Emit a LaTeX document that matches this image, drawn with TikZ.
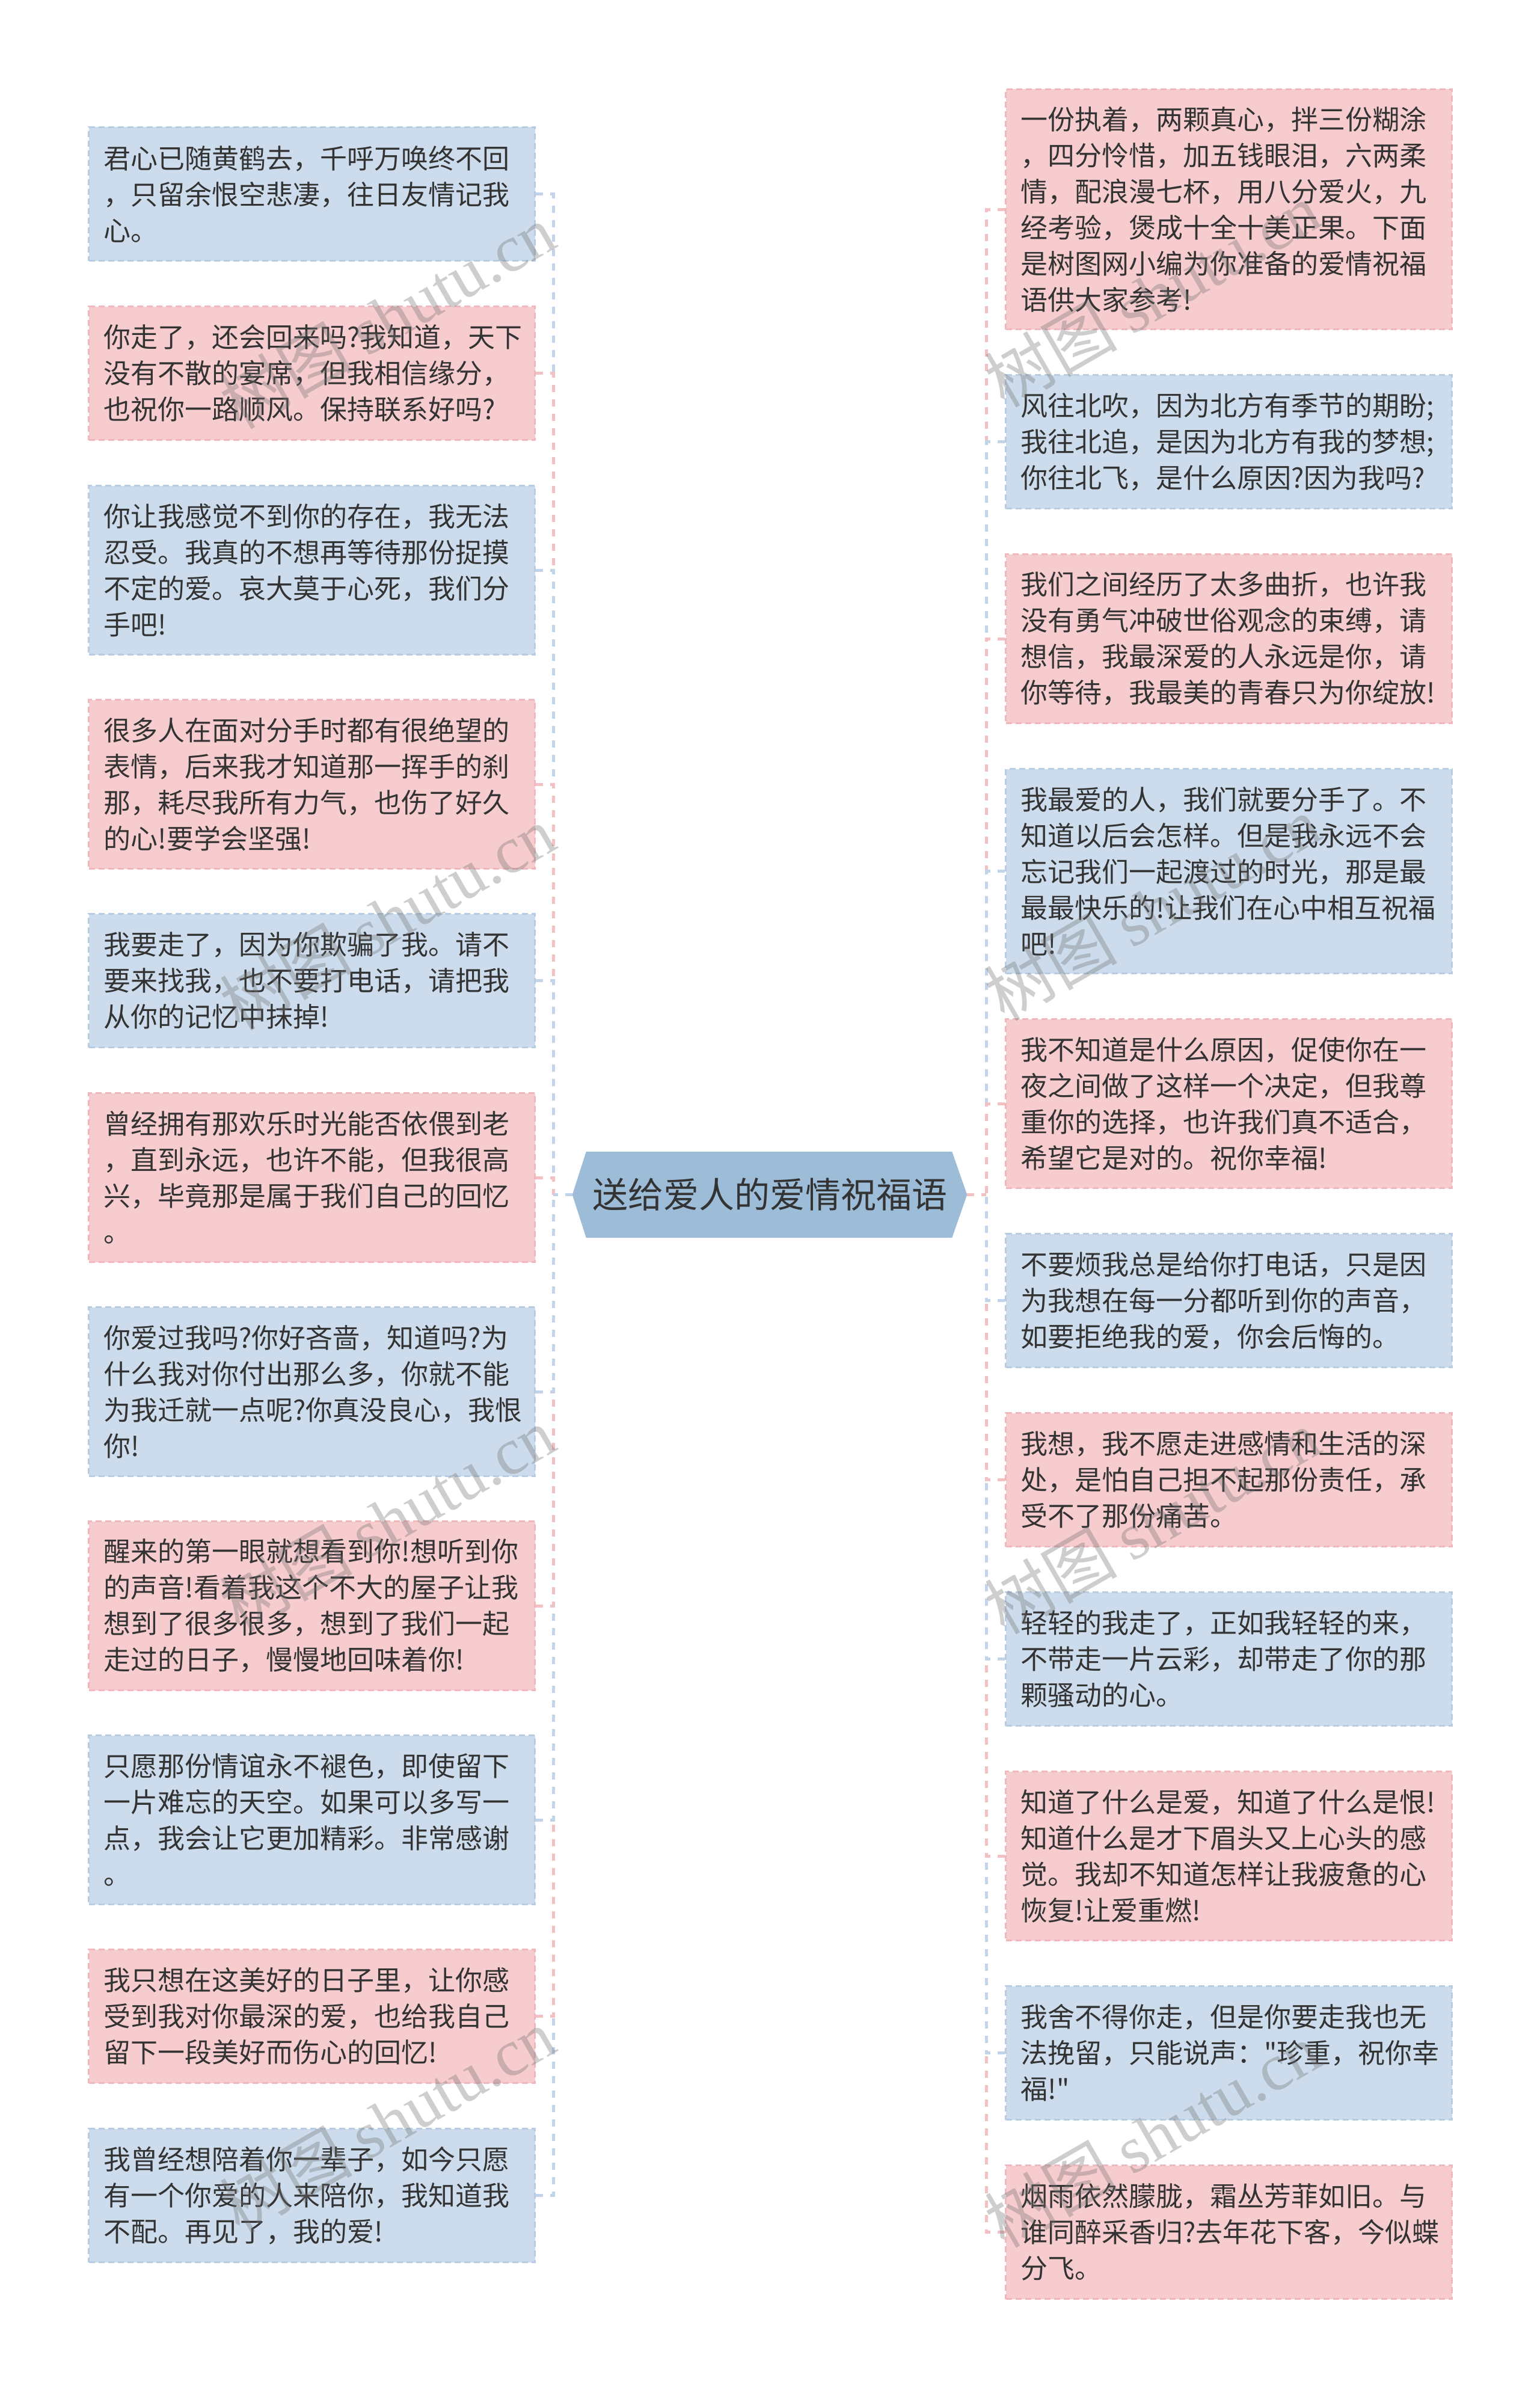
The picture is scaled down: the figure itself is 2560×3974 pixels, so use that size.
\documentclass[tikz,border=0pt]{standalone}
\usepackage{fontspec}
\setmainfont{Noto Sans CJK SC}
\newfontfamily\cjkfont{Noto Sans CJK SC}
\newfontfamily\wmlatin{Liberation Serif}
\usetikzlibrary{backgrounds}
\definecolor{bfill}{HTML}{CCDCEC}
\definecolor{bline}{HTML}{B8CDE3}
\definecolor{pfill}{HTML}{F6CCCF}
\definecolor{pline}{HTML}{F0B8BD}
\definecolor{cblue}{HTML}{C2D4E9}
\definecolor{cpink}{HTML}{F3C0C4}
\definecolor{rootfill}{HTML}{9DBCD8}
\definecolor{txt}{HTML}{333333}
\begin{document}
\begin{tikzpicture}[x=1pt,y=-1pt,
  leaf/.style={anchor=north west, minimum width=742pt, text width=692pt, inner xsep=25pt, inner ysep=0pt, align=left, text=txt, font=\cjkfont\fontsize{45pt}{60pt}\selectfont, line width=3pt, dash pattern=on 10pt off 6pt},
  bleaf/.style={leaf, fill=bfill, draw=bline},
  pleaf/.style={leaf, fill=pfill, draw=pline},
  hthree/.style={minimum height=222pt},
  hfour/.style={minimum height=281pt},
  hfive/.style={minimum height=340pt},
  hsix/.style={minimum height=399pt},
  conn/.style={line width=5pt, dash pattern=on 12pt off 12pt},
  bconn/.style={conn, draw=cblue},
  pconn/.style={conn, draw=cpink},
  wm/.style={rotate=30, text=black!55, opacity=0.35, font=\cjkfont\fontsize{110pt}{110pt}\selectfont, inner sep=0pt}
]
\useasboundingbox (0,0) rectangle (2560,3974);

% central topic
\node[minimum width=656pt, minimum height=143pt, inner sep=0pt, font=\cjkfont\fontsize{59pt}{59pt}\selectfont, text=txt] (root) at (1280,1986.5) {送给爱人的爱情祝福语};

% left column
\node[bleaf,hthree] (L1) at (146,210) {君心已随黄鹤去，千呼万唤终不回\\，只留余恨空悲凄，往日友情记我\\心。};
\node[pleaf,hthree] (L2) at (146,508) {你走了，还会回来吗?我知道，天下\\没有不散的宴席，但我相信缘分，\\也祝你一路顺风。保持联系好吗?};
\node[bleaf,hfour] (L3) at (146,806) {你让我感觉不到你的存在，我无法\\忍受。我真的不想再等待那份捉摸\\不定的爱。哀大莫于心死，我们分\\手吧!};
\node[pleaf,hfour] (L4) at (146,1162) {很多人在面对分手时都有很绝望的\\表情，后来我才知道那一挥手的刹\\那，耗尽我所有力气，也伤了好久\\的心!要学会坚强!};
\node[bleaf,hthree] (L5) at (146,1518) {我要走了，因为你欺骗了我。请不\\要来找我，也不要打电话，请把我\\从你的记忆中抹掉!};
\node[pleaf,hfour] (L6) at (146,1816) {曾经拥有那欢乐时光能否依偎到老\\，直到永远，也许不能，但我很高\\兴，毕竟那是属于我们自己的回忆\\。};
\node[bleaf,hfour] (L7) at (146,2172) {你爱过我吗?你好吝啬，知道吗?为\\什么我对你付出那么多，你就不能\\为我迁就一点呢?你真没良心，我恨\\你!};
\node[pleaf,hfour] (L8) at (146,2528) {醒来的第一眼就想看到你!想听到你\\的声音!看着我这个不大的屋子让我\\想到了很多很多，想到了我们一起\\走过的日子，慢慢地回味着你!};
\node[bleaf,hfour] (L9) at (146,2884) {只愿那份情谊永不褪色，即使留下\\一片难忘的天空。如果可以多写一\\点，我会让它更加精彩。非常感谢\\。};
\node[pleaf,hthree] (L10) at (146,3240) {我只想在这美好的日子里，让你感\\受到我对你最深的爱，也给我自己\\留下一段美好而伤心的回忆!};
\node[bleaf,hthree] (L11) at (146,3538) {我曾经想陪着你一辈子，如今只愿\\有一个你爱的人来陪你，我知道我\\不配。再见了，我的爱!};

% right column
\node[pleaf,hsix] (R1) at (1671,147) {一份执着，两颗真心，拌三份糊涂\\，四分怜惜，加五钱眼泪，六两柔\\情，配浪漫七杯，用八分爱火，九\\经考验，煲成十全十美正果。下面\\是树图网小编为你准备的爱情祝福\\语供大家参考!};
\node[bleaf,hthree] (R2) at (1671,622) {风往北吹，因为北方有季节的期盼;\\我往北追，是因为北方有我的梦想;\\你往北飞，是什么原因?因为我吗?};
\node[pleaf,hfour] (R3) at (1671,920) {我们之间经历了太多曲折，也许我\\没有勇气冲破世俗观念的束缚，请\\想信，我最深爱的人永远是你，请\\你等待，我最美的青春只为你绽放!};
\node[bleaf,hfive] (R4) at (1671,1277) {我最爱的人，我们就要分手了。不\\知道以后会怎样。但是我永远不会\\忘记我们一起渡过的时光，那是最\\最最快乐的!让我们在心中相互祝福\\吧!};
\node[pleaf,hfour] (R5) at (1671,1693) {我不知道是什么原因，促使你在一\\夜之间做了这样一个决定，但我尊\\重你的选择，也许我们真不适合，\\希望它是对的。祝你幸福!};
\node[bleaf,hthree] (R6) at (1671,2050) {不要烦我总是给你打电话，只是因\\为我想在每一分都听到你的声音，\\如要拒绝我的爱，你会后悔的。};
\node[pleaf,hthree] (R7) at (1671,2348) {我想，我不愿走进感情和生活的深\\处，是怕自己担不起那份责任，承\\受不了那份痛苦。};
\node[bleaf,hthree] (R8) at (1671,2646) {轻轻的我走了，正如我轻轻的来，\\不带走一片云彩，却带走了你的那\\颗骚动的心。};
\node[pleaf,hfour] (R9) at (1671,2944) {知道了什么是爱，知道了什么是恨!\\知道什么是才下眉头又上心头的感\\觉。我却不知道怎样让我疲惫的心\\恢复!让爱重燃!};
\node[bleaf,hthree] (R10) at (1671,3301) {我舍不得你走，但是你要走我也无\\法挽留，只能说声："珍重，祝你幸\\福!"};
\node[pleaf,hthree] (R11) at (1671,3599) {烟雨依然朦胧，霜丛芳菲如旧。与\\谁同醉采香归?去年花下客，今似蝶\\分飞。};

% background: page and hexagon of the central topic
\begin{pgfonlayer}{background}
  \fill[white] (0,0) rectangle (2560,3974);
  \fill[rootfill] (root.west) -- ([xshift=23pt]root.north west) -- ([xshift=-25pt]root.north east) -- (root.east) -- ([xshift=-25pt]root.south east) -- ([xshift=23pt]root.south west) -- cycle;
\end{pgfonlayer}

% trunk points
\coordinate (tlc) at (920,1986.5);
\coordinate (trc) at (1640,1986.5);
\foreach \i in {2,...,10} {
  \coordinate (tl\i) at (L\i.west -| tlc);
  \coordinate (tr\i) at (R\i.east -| trc);
}

% left connectors
\draw[bconn] (L1.east) -| (tl2);
\draw[pconn] (L2.east) -| (tl3);
\draw[bconn] (L3.east) -| (tl4);
\draw[pconn] (L4.east) -| (tl5);
\draw[bconn] (L5.east) -| (tl6);
\draw[pconn] (L6.east) -| (tlc);
\draw[bconn] (L7.east) -| (tlc);
\draw[pconn] (L8.east) -| (tl7);
\draw[bconn] (L9.east) -| (tl8);
\draw[pconn] (L10.east) -| (tl9);
\draw[bconn] (L11.east) -| (tl10);
\draw[bconn] (root.west) -- (tlc);

% right connectors
\draw[pconn] (R1.west) -| (tr2);
\draw[bconn] (R2.west) -| (tr3);
\draw[pconn] (R3.west) -| (tr4);
\draw[bconn] (R4.west) -| (tr5);
\draw[pconn] (R5.west) -| (trc);
\draw[bconn] (R6.west) -| (trc);
\draw[pconn] (R7.west) -| (tr6);
\draw[bconn] (R8.west) -| (tr7);
\draw[pconn] (R9.west) -| (tr8);
\draw[bconn] (R10.west) -| (tr9);
\draw[pconn] (R11.west) -| (tr10);
\draw[pconn] (root.east) -- (trc);

% watermarks
\foreach \k/\y in {1/526,2/1526,3/2526,4/3526} {
  \node[wm] (wml\k) at (644,\y) {树图 {\wmlatin shutu.cn}};
}
\foreach \k/\y in {1/490,2/1510,3/2530,4/3550} {
  \node[wm] (wmr\k) at (1916,\y) {树图 {\wmlatin shutu.cn}};
}
\end{tikzpicture}
\end{document}
